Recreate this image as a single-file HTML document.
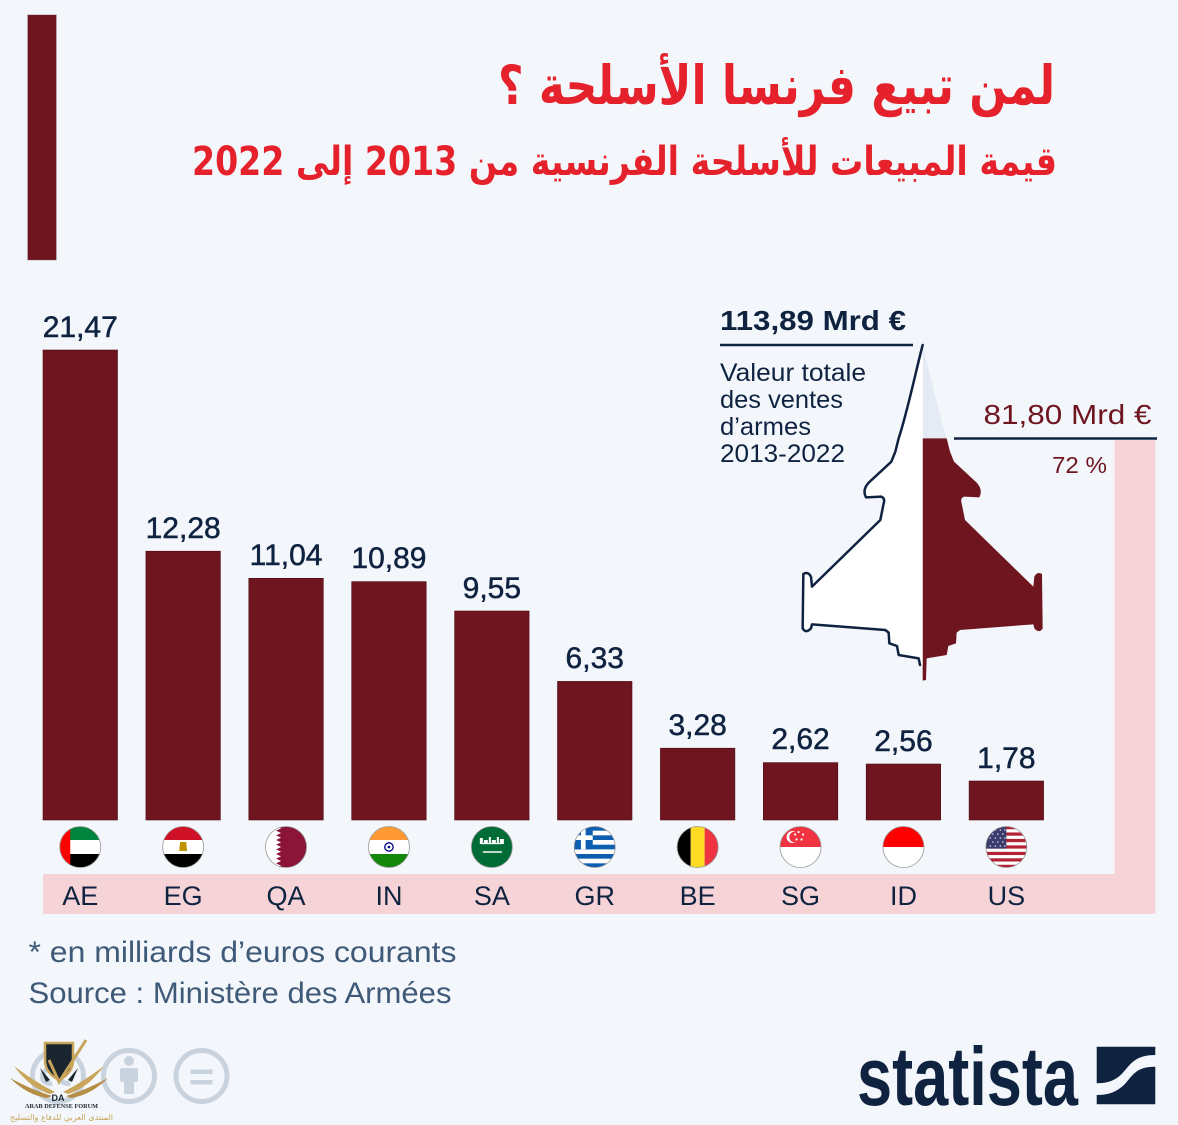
<!DOCTYPE html>
<html><head><meta charset="utf-8"><style>
html,body{margin:0;padding:0;background:#f3f7fb;}
svg{display:block;}
text{font-family:"Liberation Sans",sans-serif;}
</style></head><body>
<svg width="1178" height="1125" viewBox="0 0 1178 1125" xmlns="http://www.w3.org/2000/svg">
<defs>
<clipPath id="fc"><circle cx="0" cy="0" r="20.5"/></clipPath>
<clipPath id="ctop" clipPathUnits="userSpaceOnUse"><rect x="0" y="0" width="2000" height="445"/></clipPath>
<clipPath id="cbot" clipPathUnits="userSpaceOnUse"><rect x="0" y="445" width="2000" height="2000"/></clipPath>
</defs>
<rect width="1178" height="1125" fill="#f3f7fb"/>

<!-- left accent bar -->
<rect x="27.5" y="14.7" width="29" height="245.5" fill="#6e1520" stroke="#b9b9bd" stroke-width="0.6"/>

<!-- Titles -->
<text x="776.5" y="104" text-anchor="middle" direction="rtl" font-family="'DejaVu Sans',sans-serif" font-weight="bold" font-size="54" fill="#e5222b" textLength="557" lengthAdjust="spacingAndGlyphs" style="font-family:'DejaVu Sans',sans-serif">لمن تبيع فرنسا الأسلحة ؟</text>
<text x="624.5" y="175" text-anchor="middle" direction="rtl" font-family="'DejaVu Sans',sans-serif" font-weight="bold" font-size="40" fill="#e5222b" textLength="865" lengthAdjust="spacingAndGlyphs" style="font-family:'DejaVu Sans',sans-serif">قيمة المبيعات للأسلحة الفرنسية من 2013 إلى 2022</text>

<!-- pink band -->
<rect x="43" y="874" width="1112.5" height="40" fill="#f6d3d6"/>
<rect x="1114.5" y="440" width="41" height="474" fill="#f6d3d6"/>

<!-- bars -->
<g fill="#6e1520" stroke="#4f0d16" stroke-width="0.6">
<rect x="43" y="350" width="74.5" height="470"/>
<rect x="145.9" y="551.2" width="74.5" height="268.8"/>
<rect x="248.8" y="578.3" width="74.5" height="241.7"/>
<rect x="351.7" y="581.6" width="74.5" height="238.4"/>
<rect x="454.6" y="611" width="74.5" height="209"/>
<rect x="557.5" y="681.4" width="74.5" height="138.6"/>
<rect x="660.4" y="748.2" width="74.5" height="71.8"/>
<rect x="763.3" y="762.6" width="74.5" height="57.4"/>
<rect x="866.2" y="764" width="74.5" height="56"/>
<rect x="969.1" y="781" width="74.5" height="39"/>
</g>

<!-- value labels -->
<g font-size="30" fill="#0f2341" stroke="#0f2341" stroke-width="0.5" text-anchor="middle">
<text x="80.25" y="337">21,47</text>
<text x="183.15" y="538">12,28</text>
<text x="286.05" y="565">11,04</text>
<text x="388.95" y="568">10,89</text>
<text x="491.85" y="598">9,55</text>
<text x="594.75" y="668">6,33</text>
<text x="697.65" y="735">3,28</text>
<text x="800.55" y="749">2,62</text>
<text x="903.45" y="751">2,56</text>
<text x="1006.35" y="768">1,78</text>
</g>

<!-- country codes -->
<g font-size="27" fill="#0f2341" text-anchor="middle">
<text x="80.25" y="905">AE</text>
<text x="183.15" y="905">EG</text>
<text x="286.05" y="905">QA</text>
<text x="388.95" y="905">IN</text>
<text x="491.85" y="905">SA</text>
<text x="594.75" y="905">GR</text>
<text x="697.65" y="905">BE</text>
<text x="800.55" y="905">SG</text>
<text x="903.45" y="905">ID</text>
<text x="1006.35" y="905">US</text>
</g>

<!-- flags -->
<!-- AE -->
<g transform="translate(80.25,847)">
<g clip-path="url(#fc)">
<rect x="-21" y="-21" width="42" height="14" fill="#00843d"/>
<rect x="-21" y="-7" width="42" height="14" fill="#ffffff"/>
<rect x="-21" y="7" width="42" height="14" fill="#000000"/>
<rect x="-21" y="-21" width="11" height="42" fill="#ff0000"/>
</g><circle r="20.5" fill="none" stroke="#999" stroke-width="0.8"/></g>
<!-- EG -->
<g transform="translate(183.15,847)">
<g clip-path="url(#fc)">
<rect x="-21" y="-21" width="42" height="14" fill="#ce1126"/>
<rect x="-21" y="-7" width="42" height="14" fill="#ffffff"/>
<rect x="-21" y="7" width="42" height="14" fill="#000000"/>
<path d="M-3,-5 L3,-5 L4,4 L-4,4 Z" fill="#c09300"/>
</g><circle r="20.5" fill="none" stroke="#999" stroke-width="0.8"/></g>
<!-- QA -->
<g transform="translate(286.05,847)">
<g clip-path="url(#fc)">
<rect x="-21" y="-21" width="42" height="42" fill="#8a1538"/>
<polygon fill="#ffffff" points="-21,-21 -10,-21 -5,-18.67 -10,-16.33 -5,-14 -10,-11.67 -5,-9.33 -10,-7 -5,-4.67 -10,-2.33 -5,0 -10,2.33 -5,4.67 -10,7 -5,9.33 -10,11.67 -5,14 -10,16.33 -5,18.67 -10,21 -21,21"/>
</g><circle r="20.5" fill="none" stroke="#999" stroke-width="0.8"/></g>
<!-- IN -->
<g transform="translate(388.95,847)">
<g clip-path="url(#fc)">
<rect x="-21" y="-21" width="42" height="14" fill="#ff9933"/>
<rect x="-21" y="-7" width="42" height="14" fill="#ffffff"/>
<rect x="-21" y="7" width="42" height="14" fill="#138808"/>
<circle r="4.2" fill="none" stroke="#000080" stroke-width="1.3"/>
<circle r="1.3" fill="#000080"/>
</g><circle r="20.5" fill="none" stroke="#999" stroke-width="0.8"/></g>
<!-- SA -->
<g transform="translate(491.85,847)">
<g clip-path="url(#fc)">
<rect x="-21" y="-21" width="42" height="42" fill="#006c35"/>
<g fill="#ffffff">
<rect x="-12" y="-9" width="3" height="6"/><rect x="-8" y="-7" width="4" height="4"/><rect x="-3" y="-10" width="2" height="7"/>
<rect x="0" y="-7" width="4" height="4"/><rect x="5" y="-10" width="2" height="7"/><rect x="8" y="-8" width="4" height="5"/>
<rect x="-10" y="-4" width="20" height="1.2"/>
</g>
<line x1="-9" y1="5" x2="10" y2="5" stroke="#ffffff" stroke-width="1.4"/>
</g><circle r="20.5" fill="none" stroke="#999" stroke-width="0.8"/></g>
<!-- GR -->
<g transform="translate(594.75,847)">
<g clip-path="url(#fc)">
<rect x="-21" y="-21" width="42" height="42" fill="#ffffff"/>
<g fill="#0d5eaf">
<rect x="-21" y="-21" width="42" height="4.67"/>
<rect x="-21" y="-11.67" width="42" height="4.67"/>
<rect x="-21" y="-2.33" width="42" height="4.67"/>
<rect x="-21" y="7" width="42" height="4.67"/>
<rect x="-21" y="16.33" width="42" height="4.67"/>
<rect x="-21" y="-21" width="19" height="23.3"/>
</g>
<rect x="-21" y="-11.67" width="19" height="4.67" fill="#ffffff"/>
<rect x="-13.8" y="-21" width="4.67" height="23.3" fill="#ffffff"/>
</g><circle r="20.5" fill="none" stroke="#999" stroke-width="0.8"/></g>
<!-- BE -->
<g transform="translate(697.65,847)">
<g clip-path="url(#fc)">
<rect x="-21" y="-21" width="14" height="42" fill="#000000"/>
<rect x="-7" y="-21" width="14" height="42" fill="#fdda24"/>
<rect x="7" y="-21" width="14" height="42" fill="#ef3340"/>
</g><circle r="20.5" fill="none" stroke="#999" stroke-width="0.8"/></g>
<!-- SG -->
<g transform="translate(800.55,847)">
<g clip-path="url(#fc)">
<rect x="-21" y="-21" width="42" height="21" fill="#ef3340"/>
<rect x="-21" y="0" width="42" height="21" fill="#ffffff"/>
<circle cx="-8" cy="-10" r="6" fill="#ffffff"/>
<circle cx="-5.8" cy="-10" r="5.4" fill="#ef3340"/>
<g fill="#ffffff"><circle cx="-2" cy="-15" r="1.1"/><circle cx="2.5" cy="-12.5" r="1.1"/><circle cx="1" cy="-7.5" r="1.1"/><circle cx="-4" cy="-7.5" r="1.1"/><circle cx="-5.5" cy="-12.5" r="1.1"/></g>
</g><circle r="20.5" fill="none" stroke="#999" stroke-width="0.8"/></g>
<!-- ID -->
<g transform="translate(903.45,847)">
<g clip-path="url(#fc)">
<rect x="-21" y="-21" width="42" height="21" fill="#ff0000"/>
<rect x="-21" y="0" width="42" height="21" fill="#ffffff"/>
</g><circle r="20.5" fill="none" stroke="#999" stroke-width="0.8"/></g>
<!-- US -->
<g transform="translate(1006.35,847)">
<g clip-path="url(#fc)">
<rect x="-21" y="-21" width="42" height="42" fill="#ffffff"/>
<g fill="#b22234">
<rect x="-21" y="-21" width="42" height="3.23"/>
<rect x="-21" y="-14.54" width="42" height="3.23"/>
<rect x="-21" y="-8.08" width="42" height="3.23"/>
<rect x="-21" y="-1.62" width="42" height="3.23"/>
<rect x="-21" y="4.84" width="42" height="3.23"/>
<rect x="-21" y="11.3" width="42" height="3.23"/>
<rect x="-21" y="17.76" width="42" height="3.23"/>
</g>
<rect x="-21" y="-21" width="21" height="22.6" fill="#3c3b6e"/>
<g fill="#d8d8e8">
<circle cx="-16" cy="-17" r="0.8"/><circle cx="-11" cy="-17" r="0.8"/><circle cx="-6" cy="-17" r="0.8"/><circle cx="-1.5" cy="-17" r="0.8"/>
<circle cx="-13.5" cy="-13" r="0.8"/><circle cx="-8.5" cy="-13" r="0.8"/><circle cx="-3.5" cy="-13" r="0.8"/>
<circle cx="-16" cy="-9" r="0.8"/><circle cx="-11" cy="-9" r="0.8"/><circle cx="-6" cy="-9" r="0.8"/><circle cx="-1.5" cy="-9" r="0.8"/>
<circle cx="-13.5" cy="-5" r="0.8"/><circle cx="-8.5" cy="-5" r="0.8"/><circle cx="-3.5" cy="-5" r="0.8"/>
<circle cx="-16" cy="-1" r="0.8"/><circle cx="-11" cy="-1" r="0.8"/><circle cx="-6" cy="-1" r="0.8"/><circle cx="-1.5" cy="-1" r="0.8"/>
</g>
</g><circle r="20.5" fill="none" stroke="#999" stroke-width="0.8"/></g>

<!-- plane -->
<g transform="translate(700,290) scale(0.33333)">
  <path clip-path="url(#ctop)" fill="#e4ebf4" d="M668,165 C690,250 715,370 740,445 L750,485 L762,515 L830,578 Q850,600 838,622 L792,620 Q780,625 785,640 L795,690 L1000,890 L1003,860 Q1012,843 1026,852 L1028,1015 Q1018,1032 1003,1015 L1000,1003 L780,1020 L770,1028 L768,1060 L745,1068 L740,1095 L680,1105 L678,1170 L668,1172 Z"/>
  <path clip-path="url(#cbot)" fill="#6e1520" d="M668,165 C690,250 715,370 740,445 L750,485 L762,515 L830,578 Q850,600 838,622 L792,620 Q780,625 785,640 L795,690 L1000,890 L1003,860 Q1012,843 1026,852 L1028,1015 Q1018,1032 1003,1015 L1000,1003 L780,1020 L770,1028 L768,1060 L745,1068 L740,1095 L680,1105 L678,1170 L668,1172 Z"/>
  <path fill="#ffffff" d="M668,165 C646,250 621,370 596,445 L586,485 L574,515 L506,578 Q486,600 498,622 L544,620 Q556,625 551,640 L541,690 L336,890 L333,860 Q324,843 310,852 L308,1015 Q318,1032 333,1015 L336,1003 L556,1020 L566,1028 L568,1060 L591,1068 L596,1095 L656,1105 L660,1125 L668,1125 Z"/>
  <path fill="none" stroke="#0f2341" stroke-width="7.5" stroke-linejoin="round" stroke-linecap="round" d="M668,165 C646,250 621,370 596,445 L586,485 L574,515 L506,578 Q486,600 498,622 L544,620 Q556,625 551,640 L541,690 L336,890 L333,860 Q324,843 310,852 L308,1015 Q318,1032 333,1015 L336,1003 L556,1020 L566,1028 L568,1060 L591,1068 L596,1095 L656,1105 L660,1125"/>
</g>

<!-- annotation lines -->
<line x1="720" y1="345" x2="913" y2="345" stroke="#0f2341" stroke-width="2.5"/>
<line x1="954" y1="438.5" x2="1157" y2="438.5" stroke="#0f2341" stroke-width="2.5"/>

<text x="720" y="330" font-size="28" font-weight="bold" fill="#0f2341" textLength="186" lengthAdjust="spacingAndGlyphs">113,89 Mrd €</text>
<g font-size="25" fill="#0f2341">
<text x="720" y="381" textLength="146" lengthAdjust="spacingAndGlyphs">Valeur totale</text>
<text x="720" y="408" textLength="123" lengthAdjust="spacingAndGlyphs">des ventes</text>
<text x="720" y="435" textLength="91" lengthAdjust="spacingAndGlyphs">d’armes</text>
<text x="720" y="462" textLength="125" lengthAdjust="spacingAndGlyphs">2013-2022</text>
</g>
<text x="983.5" y="424" font-size="28" fill="#6e1520" textLength="168" lengthAdjust="spacingAndGlyphs">81,80 Mrd €</text>
<text x="1052" y="473" font-size="23" fill="#6e1520" textLength="55" lengthAdjust="spacingAndGlyphs">72 %</text>

<!-- footnotes -->
<g font-size="30" fill="#3f5a78">
<text x="28.5" y="962" textLength="428" lengthAdjust="spacingAndGlyphs">* en milliards d’euros courants</text>
<text x="28.5" y="1003" textLength="423" lengthAdjust="spacingAndGlyphs">Source : Ministère des Armées</text>
</g>

<!-- CC icons -->
<g fill="none" stroke="#c8d3dd" stroke-width="5">
<circle cx="58" cy="1076" r="25.5"/>
<circle cx="129" cy="1076" r="25.5"/>
<circle cx="201.5" cy="1076" r="25.5"/>
<path d="M52,1070 A7,7 0 1 0 52,1083"/>
<path d="M70,1070 A7,7 0 1 0 70,1083"/>
</g>
<g fill="#c8d3dd">
<circle cx="129" cy="1061" r="5"/>
<rect x="120" y="1068" width="18" height="14" rx="2"/>
<rect x="124" y="1080" width="10" height="14"/>
<rect x="190.5" y="1069.5" width="22" height="4.5"/>
<rect x="190.5" y="1080" width="22" height="4.5"/>
</g>

<!-- watermark logo (approx) -->
<g>
<path d="M14,1066 Q35,1082 55,1092 L50,1094 Q30,1088 14,1066 Z" fill="#c9a55a"/>
<path d="M10,1078 Q32,1090 52,1096 L47,1098 Q27,1095 10,1078 Z" fill="#b58d44"/>
<path d="M104,1066 Q83,1082 63,1092 L68,1094 Q88,1088 104,1066 Z" fill="#c9a55a"/>
<path d="M108,1078 Q86,1090 66,1096 L71,1098 Q91,1095 108,1078 Z" fill="#b58d44"/>
<path d="M40,1068 L50,1080 L46,1082 Z" fill="#1c2630"/>
<path d="M78,1068 L68,1080 L72,1082 Z" fill="#1c2630"/>
<path d="M45,1043 L73,1043 L73,1060 Q73,1073 59,1080 Q45,1073 45,1060 Z" fill="#1a2530" stroke="#c9a55a" stroke-width="2.5"/>
<path d="M49,1060 L59,1082 L86,1040" fill="none" stroke="#c9a55a" stroke-width="3"/>
<text x="58" y="1101" text-anchor="middle" font-size="9" font-weight="bold" fill="#1a2530">DA</text>
<text x="25" y="1108" font-size="6.5" font-weight="bold" fill="#1a2530" textLength="73" lengthAdjust="spacingAndGlyphs" style="font-family:'Liberation Serif',serif">ARAB DEFENSE FORUM</text>
<text x="61.5" y="1120" text-anchor="middle" direction="rtl" font-size="8" fill="#c9a55a" textLength="103" lengthAdjust="spacingAndGlyphs" style="font-family:'DejaVu Sans',sans-serif">المنتدى العربي للدفاع والتسليح</text>
</g>

<!-- statista logo -->
<text x="857" y="1105" font-size="83" font-weight="bold" fill="#0f2341" textLength="221" lengthAdjust="spacingAndGlyphs">statista</text>
<g fill="#0f2341">
<path d="M1096.7,1046.7 L1155.3,1046.7 L1155.3,1055 C1140,1055 1133.3,1060 1126.7,1068.3 C1120,1076.7 1113.3,1083.3 1096.7,1083.3 Z"/>
<path d="M1096.7,1095 C1113.3,1095 1121.7,1088.3 1128.3,1080 C1135,1071.7 1140,1066.7 1155.3,1066.7 L1155.3,1104.3 L1096.7,1104.3 Z"/>
</g>
</svg>
</body></html>
